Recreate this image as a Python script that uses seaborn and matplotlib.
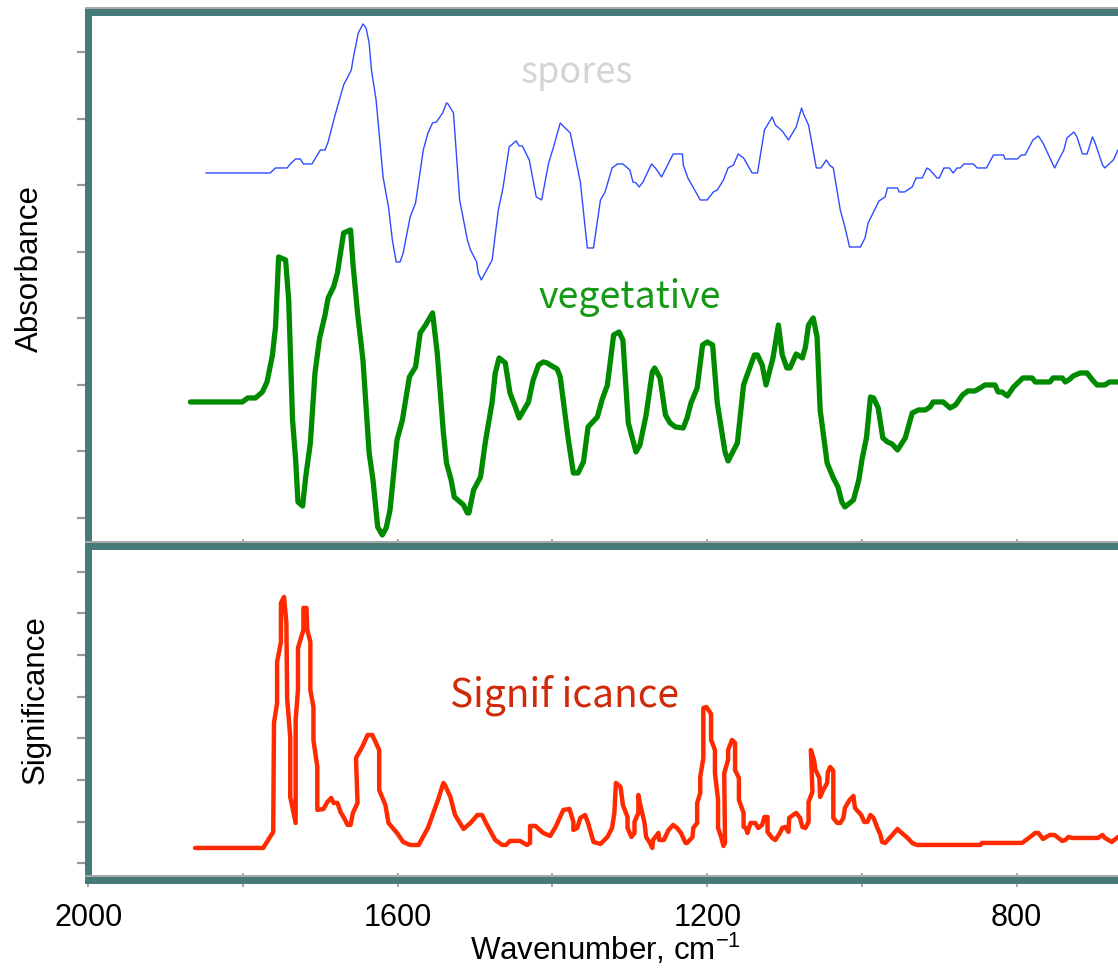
import matplotlib
matplotlib.use("Agg")
import matplotlib.pyplot as plt
import matplotlib.patheffects as pe
from matplotlib.ticker import MultipleLocator, NullFormatter
import seaborn as sns

# --- data (arbitrary intensity units, x in cm-1) ---
spores_wn = [1848, 1765, 1758, 1743, 1739, 1732, 1726, 1722, 1711, 1700,
             1694, 1690, 1681, 1670, 1660, 1658, 1651, 1645, 1641, 1637,
             1634, 1628, 1619, 1612, 1607, 1602, 1597, 1593, 1584, 1577,
             1567, 1561, 1555, 1550, 1542, 1537, 1535, 1528, 1520, 1510,
             1506, 1498, 1496, 1492, 1478, 1470, 1464, 1456, 1447, 1443,
             1439, 1430, 1421, 1414, 1405, 1399, 1390, 1385, 1377, 1364,
             1355, 1347, 1338, 1332, 1323, 1316, 1309, 1300, 1296, 1292,
             1288, 1283, 1272, 1267, 1259, 1244, 1232, 1231, 1225, 1209,
             1200, 1192, 1187, 1179, 1173, 1166, 1160, 1153, 1142, 1135,
             1126, 1116, 1112, 1103, 1095, 1085, 1078, 1075, 1069, 1059,
             1053, 1046, 1042, 1037, 1028, 1022, 1016, 1002, 996, 992,
             978, 970, 967, 954, 952, 945, 935, 930, 922, 916,
             912, 903, 900, 894, 887, 882, 877, 873, 868, 856,
             851, 839, 830, 817, 815, 799, 794, 789, 779, 772,
             766, 751, 739, 735, 726, 722, 715, 709, 702, 699,
             689, 686, 679, 675, 669]
spores_abs = [387, 387, 392, 392, 396, 401, 401, 396, 396, 410,
              410, 418, 445, 475, 490, 500, 527, 536, 532, 517,
              490, 460, 383, 353, 320, 298, 298, 307, 343, 357,
              410, 427, 437, 438, 447, 457, 456, 447, 360, 320,
              310, 298, 287, 280, 300, 350, 372, 413, 419, 414,
              414, 400, 363, 360, 397, 412, 437, 433, 427, 378,
              312, 312, 360, 368, 392, 396, 396, 390, 378, 377,
              373, 378, 396, 392, 383, 406, 406, 395, 382, 360,
              360, 368, 370, 380, 392, 395, 406, 402, 387, 387,
              430, 443, 435, 429, 420, 433, 452, 445, 435, 392,
              392, 400, 395, 392, 350, 333, 313, 313, 322, 337,
              359, 363, 372, 372, 368, 368, 373, 382, 382, 392,
              390, 382, 382, 392, 392, 387, 392, 392, 396, 396,
              392, 392, 405, 405, 401, 401, 405, 405, 420, 424,
              417, 392, 410, 422, 428, 423, 406, 406, 423, 418,
              395, 392, 397, 400, 410]

veg_wn = [1868, 1801, 1794, 1784, 1775, 1769, 1762, 1758, 1754, 1745,
          1741, 1736, 1732, 1729, 1723, 1719, 1713, 1707, 1701, 1694,
          1690, 1683, 1678, 1670, 1661, 1658, 1652, 1645, 1637, 1632,
          1626, 1620, 1615, 1610, 1601, 1594, 1585, 1577, 1571, 1564,
          1555, 1549, 1541, 1537, 1531, 1527, 1515, 1510, 1508, 1502,
          1493, 1487, 1478, 1474, 1469, 1461, 1455, 1448, 1443, 1431,
          1425, 1418, 1412, 1407, 1403, 1394, 1390, 1380, 1373, 1367,
          1360, 1354, 1342, 1336, 1329, 1321, 1314, 1309, 1302, 1292,
          1287, 1279, 1271, 1268, 1261, 1254, 1248, 1241, 1231, 1226,
          1221, 1213, 1206, 1200, 1193, 1187, 1177, 1173, 1161, 1153,
          1147, 1139, 1135, 1129, 1124, 1115, 1108, 1103, 1097, 1093,
          1085, 1077, 1073, 1069, 1063, 1058, 1054, 1045, 1037, 1031,
          1026, 1022, 1011, 1004, 1000, 994, 989, 985, 979, 973,
          967, 961, 954, 944, 935, 927, 918, 912, 908, 895,
          886, 879, 870, 863, 854, 847, 841, 828, 824, 819,
          812, 804, 792, 780, 776, 757, 753, 741, 737, 731,
          727, 718, 709, 702, 696, 686, 680, 669]
veg_abs = [158, 158, 162, 162, 168, 178, 205, 233, 303, 300,
           260, 140, 100, 58, 54, 83, 117, 187, 222, 245,
           262, 273, 287, 327, 330, 297, 247, 200, 107, 80,
           33, 25, 32, 50, 120, 140, 183, 193, 227, 235,
           247, 207, 127, 97, 80, 63, 55, 47, 47, 70,
           83, 117, 158, 187, 202, 197, 167, 153, 142, 158,
           180, 195, 198, 197, 195, 191, 183, 123, 87, 87,
           98, 133, 143, 160, 175, 225, 228, 220, 137, 108,
           115, 145, 188, 192, 182, 145, 137, 133, 132, 142,
           157, 172, 215, 218, 215, 157, 108, 99, 117, 175,
           188, 205, 205, 195, 175, 202, 235, 205, 192, 192,
           206, 202, 213, 235, 242, 223, 150, 97, 82, 73,
           58, 53, 60, 80, 100, 123, 163, 162, 152, 122,
           118, 116, 110, 122, 147, 150, 150, 153, 158, 158,
           152, 155, 165, 169, 169, 172, 175, 175, 168, 168,
           164, 173, 182, 182, 178, 178, 182, 182, 178, 181,
           184, 187, 187, 180, 175, 175, 178, 178]

sig_wn = [1862, 1774, 1761, 1760, 1756, 1756, 1751, 1751, 1747, 1744,
          1743, 1739, 1739, 1732, 1732, 1729, 1729, 1722, 1722, 1718,
          1717, 1713, 1713, 1709, 1709, 1704, 1704, 1696, 1691, 1686,
          1683, 1678, 1674, 1668, 1665, 1661, 1658, 1652, 1654, 1646,
          1639, 1633, 1624, 1624, 1616, 1612, 1601, 1593, 1584, 1573,
          1568, 1561, 1548, 1541, 1539, 1532, 1526, 1515, 1506, 1497,
          1491, 1486, 1474, 1465, 1460, 1455, 1442, 1433, 1429, 1429,
          1422, 1412, 1403, 1396, 1386, 1378, 1373, 1373, 1368, 1364,
          1358, 1354, 1347, 1338, 1329, 1323, 1320, 1318, 1312, 1309,
          1303, 1303, 1298, 1294, 1294, 1289, 1289, 1287, 1281, 1279,
          1274, 1271, 1270, 1263, 1262, 1256, 1250, 1244, 1239, 1234,
          1228, 1226, 1219, 1218, 1213, 1213, 1209, 1209, 1205, 1205,
          1201, 1195, 1195, 1190, 1190, 1186, 1186, 1182, 1179, 1177,
          1178, 1173, 1173, 1168, 1164, 1164, 1159, 1159, 1153, 1153,
          1150, 1148, 1144, 1138, 1134, 1129, 1126, 1122, 1122, 1116,
          1112, 1106, 1103, 1099, 1095, 1094, 1089, 1085, 1080, 1077,
          1073, 1069, 1069, 1064, 1066, 1062, 1060, 1055, 1054, 1050,
          1045, 1044, 1041, 1037, 1037, 1032, 1028, 1024, 1022, 1016,
          1011, 1009, 1001, 997, 993, 989, 985, 980, 976, 974,
          970, 963, 954, 953, 941, 935, 929, 847, 845, 793,
          786, 776, 772, 766, 757, 751, 741, 737, 733, 728,
          695, 689, 686, 677, 669]
sig_val = [32, 32, 48, 157, 177, 218, 238, 277, 283, 257,
           182, 143, 83, 57, 160, 190, 232, 250, 272, 272,
           250, 238, 190, 173, 140, 113, 70, 71, 78, 82,
           77, 77, 68, 60, 55, 55, 67, 77, 122, 133,
           145, 145, 130, 90, 75, 57, 47, 38, 35, 35,
           42, 52, 80, 97, 95, 83, 65, 51, 57, 65,
           65, 57, 40, 35, 35, 39, 39, 35, 37, 54,
           54, 47, 44, 53, 70, 71, 58, 50, 52, 62,
           65, 57, 38, 36, 43, 52, 67, 97, 93, 75,
           63, 52, 43, 47, 58, 67, 85, 77, 57, 43,
           37, 32, 40, 47, 40, 40, 50, 55, 52, 47,
           37, 37, 43, 52, 57, 77, 87, 103, 122, 172,
           173, 166, 140, 130, 107, 80, 52, 43, 34, 37,
           107, 120, 130, 140, 137, 110, 102, 80, 67, 53,
           52, 47, 57, 57, 52, 55, 63, 63, 48, 42,
           40, 47, 52, 53, 48, 62, 65, 67, 62, 53,
           52, 58, 78, 88, 130, 120, 110, 102, 83, 90,
           97, 108, 113, 109, 62, 57, 57, 62, 72, 80,
           84, 72, 65, 58, 58, 65, 62, 52, 45, 38,
           37, 43, 51, 50, 42, 37, 35, 35, 37, 37,
           41, 47, 47, 41, 45, 45, 39, 40, 43, 42,
           42, 45, 42, 38, 43]

FRAME = "#457a78"

sns.set_theme(style="white")
plt.rcParams["font.family"] = ["Liberation Sans", "DejaVu Sans"]
plt.rcParams["mathtext.fontset"] = "custom"
plt.rcParams["mathtext.rm"] = "Liberation Sans"
plt.rcParams["text.color"] = "black"
plt.rcParams["axes.labelcolor"] = "black"

fig = plt.figure(figsize=(11.18, 9.72), dpi=100)
ax_top = fig.add_axes([0.079, 0.4383, 0.921, 0.5497])
ax_bot = fig.add_axes([0.079, 0.0947, 0.921, 0.3436])


def style_frame(ax):
    ax.set_xlim(2000, 669)
    ax.spines["right"].set_visible(False)
    for name in ["left", "top", "bottom"]:
        sp = ax.spines[name]
        sp.set_visible(True)
        sp.set_color(FRAME)
        sp.set_linewidth(5.0)
        sp.set_capstyle("projecting")
        sp.set_zorder(3)
        if name != "left":
            sp.set_path_effects([pe.SimpleLineShadow(offset=(0, 1.3), shadow_color="#a8a8a8", alpha=1.0),
                                 pe.Normal()])
    ax.xaxis.set_major_locator(MultipleLocator(400))
    ax.xaxis.set_minor_locator(MultipleLocator(200))
    ax.tick_params(axis="x", which="both", bottom=True, top=False, direction="inout",
                   length=9.5, width=1.2, color="#999999", labelsize=22, pad=11.5,
                   labelcolor="black")
    ax.tick_params(axis="y", which="both", left=True, right=False, direction="out",
                   length=8.2, width=1.6, color="#999999", labelleft=False)
    ax.set_xlabel("")
    ax.set_ylabel("")


# top panel: absorbance spectra
sns.lineplot(x=spores_wn, y=spores_abs, sort=False, estimator=None, ax=ax_top,
             color="#2e4cff", linewidth=1.0)
sns.lineplot(x=veg_wn, y=veg_abs, sort=False, estimator=None, ax=ax_top,
             color="#008a00", linewidth=3.8)
style_frame(ax_top)
ax_top.set_ylim(14, 548.3)
ax_top.set_yticks([42 + 66.5 * k for k in range(8)])
ax_top.xaxis.set_major_formatter(NullFormatter())
ax_top.text(1368, 477, "spores", color="#d4d4d4", fontsize=26, ha="center", va="baseline",
            family=["Noto Sans CJK JP", "DejaVu Sans"])
ax_top.text(1300, 252, "vegetative", color="#139913", fontsize=27, ha="center", va="baseline",
            family=["Noto Sans CJK JP", "DejaVu Sans"])

# bottom panel: significance
sns.lineplot(x=sig_wn, y=sig_val, sort=False, estimator=None, ax=ax_bot,
             color="#ff2a00", linewidth=3.2)
style_frame(ax_bot)
ax_bot.set_ylim(0, 334)
ax_bot.set_yticks([16.7 + 41.66 * k for k in range(8)])
ax_bot.text(1384, 173, "Signif icance", color="#d02a08", fontsize=28, ha="center", va="baseline",
            family=["Noto Sans CJK JP", "DejaVu Sans"])

# axis titles
fig.text(38 / 1118, 1 - 268 / 972, "Absorbance", rotation=90, fontsize=22.5,
         ha="center", va="baseline", rotation_mode="anchor")
fig.text(44 / 1118, 1 - 700 / 972, "Significance", rotation=90, fontsize=22.5,
         ha="center", va="baseline", rotation_mode="anchor")
fig.text(605 / 1118, 1 - 960 / 972, "Wavenumber, cm$^{\\mathregular{-1}}$", fontsize=22.5,
         ha="center", va="baseline")

fig.savefig("out.png", dpi=100)
